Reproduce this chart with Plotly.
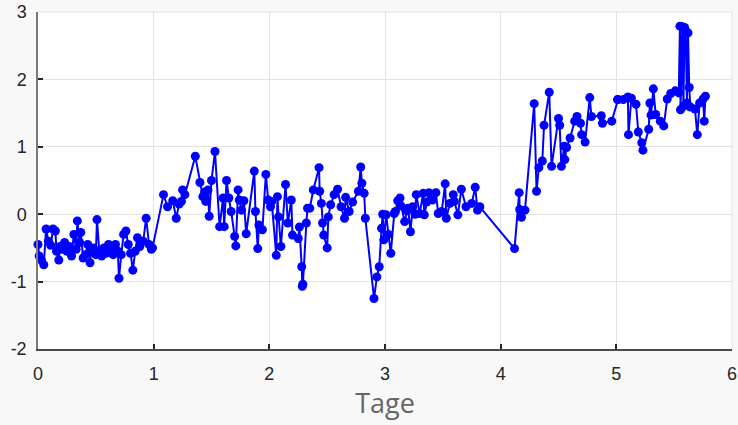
import plotly.graph_objects as go

tage = [
    0.00, 0.01, 0.03, 0.05, 0.07, 0.09, 0.11, 0.13, 0.15, 0.16, 0.18, 0.19, 0.21, 0.23, 0.25, 0.27,
    0.29, 0.31, 0.33, 0.34, 0.36, 0.37, 0.39, 0.41, 0.43, 0.45, 0.46, 0.48, 0.50, 0.51, 0.53, 0.55,
    0.57, 0.59, 0.61, 0.63, 0.65, 0.67, 0.69, 0.70, 0.72, 0.74, 0.76, 0.78, 0.80, 0.82, 0.84, 0.86,
    0.88, 0.91, 0.935, 0.96, 0.98, 0.99,
    1.085, 1.12, 1.165, 1.195, 1.22, 1.24, 1.25, 1.27, 1.36, 1.40, 1.425, 1.44, 1.45, 1.47, 1.48, 1.50,
    1.53, 1.57, 1.60, 1.61, 1.63, 1.65, 1.67, 1.70, 1.71, 1.73, 1.74, 1.76, 1.78, 1.80, 1.87, 1.88,
    1.90, 1.91, 1.94, 1.97, 1.99, 2.01, 2.02, 2.06, 2.07, 2.08, 2.10, 2.14, 2.16, 2.19, 2.20, 2.25,
    2.26, 2.28, 2.285, 2.29, 2.32, 2.33, 2.35, 2.38, 2.43, 2.435, 2.45, 2.46, 2.47, 2.50, 2.51, 2.53,
    2.56, 2.59, 2.62, 2.65, 2.66, 2.69, 2.72, 2.77, 2.79, 2.80, 2.82, 2.83, 2.905, 2.93, 2.95, 2.97,
    2.98, 2.99, 3.01, 3.03, 3.05, 3.08, 3.09, 3.11, 3.13, 3.14, 3.17, 3.19, 3.20, 3.22, 3.24, 3.26,
    3.27, 3.30, 3.33, 3.34, 3.36, 3.38, 3.41, 3.44, 3.46, 3.49, 3.52, 3.53, 3.56, 3.59, 3.60, 3.63,
    3.66, 3.70, 3.75, 3.78, 3.80, 3.82,
    4.12, 4.16, 4.165, 4.18, 4.21, 4.29, 4.31, 4.33, 4.36, 4.375, 4.42, 4.44, 4.50, 4.51, 4.525, 4.55,
    4.555, 4.57, 4.60, 4.64, 4.66, 4.69, 4.70, 4.73, 4.77, 4.785, 4.87, 4.88, 4.96, 5.01, 5.015, 5.06,
    5.10, 5.105, 5.13, 5.17, 5.19, 5.22, 5.23, 5.28, 5.29, 5.30, 5.32, 5.34, 5.38, 5.41, 5.44, 5.47,
    5.51, 5.54, 5.55, 5.555, 5.57, 5.58, 5.59, 5.60, 5.61, 5.62, 5.63, 5.64, 5.68, 5.70, 5.72, 5.75,
    5.76, 5.77,
]

werte = [
    -0.45, -0.62, -0.68, -0.75, -0.22, -0.40, -0.46, -0.22, -0.25, -0.55, -0.68, -0.48, -0.52, -0.42, -0.55, -0.48,
    -0.62, -0.30, -0.52, -0.10, -0.42, -0.27, -0.65, -0.60, -0.45, -0.72, -0.55, -0.50, -0.60, -0.08, -0.55, -0.62,
    -0.50, -0.58, -0.45, -0.55, -0.60, -0.45, -0.55, -0.95, -0.60, -0.30, -0.25, -0.45, -0.58, -0.83, -0.55, -0.35,
    -0.48, -0.40, -0.06, -0.45, -0.52, -0.50,
    0.29, 0.11, 0.20, -0.06, 0.15, 0.19, 0.36, 0.29, 0.86, 0.47, 0.26, 0.33, 0.19, 0.36, -0.03, 0.50,
    0.93, -0.185, 0.24, -0.185, 0.50, 0.24, 0.04, -0.33, -0.47, 0.36, 0.21, 0.06, 0.20, -0.29, 0.64, 0.04,
    -0.51, -0.16, -0.23, 0.59, 0.21, 0.11, 0.19, -0.61, 0.26, -0.04, -0.48, 0.44, -0.13, 0.21, -0.31, -0.36,
    -0.19, -0.78, -1.07, -1.04, -0.13, 0.09, 0.09, 0.36, 0.69, 0.34, 0.16, -0.13, -0.31, -0.50, -0.04, 0.14,
    0.29, 0.37, 0.11, -0.06, 0.25, 0.04, 0.18, 0.34, 0.70, 0.46, 0.31, -0.06, -1.25, -0.93, -0.78, -0.21,
    0.00, -0.38, -0.01, -0.30, -0.58, 0.01, 0.04, 0.20, 0.24, 0.12, -0.11, 0.05, 0.09, -0.26, 0.11, 0.00,
    0.29, 0.01, 0.31, -0.01, 0.18, 0.32, 0.21, 0.32, 0.01, 0.04, 0.45, -0.06, 0.16, 0.29, 0.19, -0.01,
    0.37, 0.11, 0.16, 0.40, 0.06, 0.11,
    -0.51, 0.32, 0.07, -0.045, 0.06, 1.64, 0.34, 0.69, 0.79, 1.32, 1.81, 0.71, 1.42, 1.32, 0.71, 1.01,
    0.81, 0.99, 1.13, 1.38, 1.45, 1.35, 1.18, 1.07, 1.73, 1.45, 1.46, 1.35, 1.38, 1.70, 1.70, 1.70,
    1.74, 1.18, 1.72, 1.63, 1.22, 1.06, 0.95, 1.26, 1.65, 1.47, 1.86, 1.48, 1.38, 1.31, 1.71, 1.79,
    1.83, 1.80, 2.79, 1.55, 2.78, 1.60, 2.77, 2.72, 1.65, 2.69, 1.88, 1.59, 1.56, 1.18, 1.65, 1.71,
    1.38, 1.75,
]

x_ticks = [0, 1, 2, 3, 4, 5, 6]
y_ticks = [-2, -1, 0, 1, 2, 3]
x_titel = "Tage"

fig = go.Figure()
fig.add_trace(go.Scatter(
    x=tage, y=werte, mode="lines+markers",
    line=dict(color="#0000ff", width=2),
    marker=dict(color="#0000ff", size=9, symbol="circle"),
    showlegend=False, cliponaxis=False,
))

fig.update_layout(
    width=738, height=425,
    margin=dict(l=38, r=6, t=12, b=76, autoexpand=False),
    paper_bgcolor="#f8f8f8",
    plot_bgcolor="#ffffff",
    font=dict(family="Liberation Sans", size=18, color="#262626"),
)
fig.update_xaxes(
    range=[0, 6], tickvals=x_ticks, ticktext=[str(v) for v in x_ticks],
    showgrid=True, gridcolor="#e3e3e3", gridwidth=1,
    showline=True, linecolor="#4a4a4a", linewidth=1.5,
    ticks="inside", ticklen=5, tickcolor="#262626", tickwidth=1.5,
    zeroline=False, mirror=False, automargin=False,
    ticklabelstandoff=8, ticklabeloverflow="allow",
    title=dict(text=x_titel, font=dict(family="Open Sans", size=27, color="#666666"), standoff=8),
)
fig.update_yaxes(
    range=[-2, 3], tickvals=y_ticks, ticktext=[str(v) for v in y_ticks],
    showgrid=True, gridcolor="#e3e3e3", gridwidth=1,
    showline=True, linecolor="#7a7a7a", linewidth=1.5,
    ticks="inside", ticklen=5, tickcolor="#262626", tickwidth=1.5,
    zeroline=False, mirror=False, automargin=False, ticklabelstandoff=6,
    ticklabeloverflow="allow",
)
fig.add_shape(type="line", xref="paper", yref="paper", x0=0, x1=1, y0=1, y1=1,
              line=dict(color="#e3e3e3", width=1), layer="below")
fig.add_shape(type="line", xref="paper", yref="paper", x0=1, x1=1, y0=0, y1=1,
              line=dict(color="#e3e3e3", width=1), layer="below")

fig.write_html(
    "out.html",
    config={"displayModeBar": False},
    post_script="document.body.style.margin='0';document.body.style.overflow='hidden';",
)
